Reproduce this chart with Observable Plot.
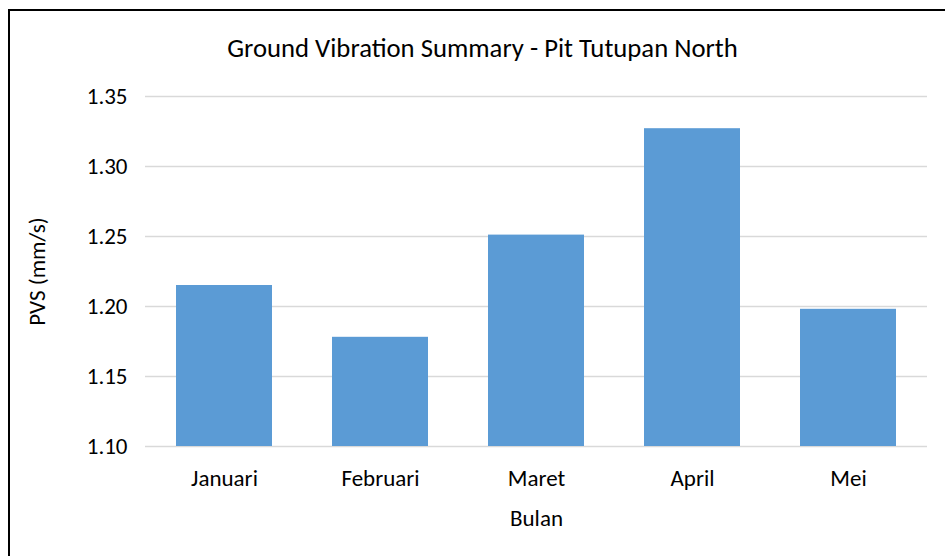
<!DOCTYPE html>
<html>
<head>
<meta charset="utf-8">
<script src="https://cdn.jsdelivr.net/npm/d3@7"></script>
<script src="https://cdn.jsdelivr.net/npm/@observablehq/plot@0.6"></script>
<style>
  html, body { margin: 0; padding: 0; background: #fff; }
  #wrap { position: relative; width: 945px; height: 556px; overflow: hidden; background: #fff;
          font-family: Calibri, Carlito, Lato, sans-serif; }
  #frame { position: absolute; left: 8px; top: 9px; width: 1000px; height: 1000px;
           border-top: 2px solid #000; border-left: 2px solid #000; box-sizing: border-box; }
  #title { position: absolute; left: 10px; top: 0; width: 945px; height: 80px; line-height: 96px;
           text-align: center; font-size: 26.7px; color: #000; }
  #chart { position: absolute; left: 0; top: 80px; }
  #chart svg { overflow: visible; }
</style>
</head>
<body>
<div id="wrap">
  <div id="frame"></div>
  <div id="title"></div>
  <div id="chart"></div>
</div>
<script>
const months = ["Januari", "Februari", "Maret", "April", "Mei"];
const pvs = [1.215, 1.178, 1.251, 1.327, 1.198];
const yTicks = [1.10, 1.15, 1.20, 1.25, 1.30, 1.35];
const title = "Ground Vibration Summary - Pit Tutupan North";
const xLabel = "Bulan";
const yLabel = "PVS (mm/s)";

const data = months.map((m, i) => ({month: m, value: pvs[i]}));
const font = "Calibri, Carlito, Lato, sans-serif";

const chart = Plot.plot({
  width: 945,
  height: 476,
  marginTop: 16,
  marginBottom: 110,
  marginLeft: 145,
  marginRight: 18,
  style: {fontFamily: font, fontSize: "23px", color: "#000", background: "transparent", overflow: "visible"},
  x: {domain: months, paddingInner: 0.383, paddingOuter: 0.1915, align: 0.5},
  y: {domain: [1.10, 1.35]},
  marks: [
    Plot.gridY(yTicks, {stroke: "#d9d9d9", strokeOpacity: 1, strokeWidth: 1.6}),
    Plot.barY(data, {x: "month", y1: 1.10, y2: "value", fill: "#5b9bd5"}),
    Plot.axisY({ticks: yTicks, tickSize: 0, tickPadding: 18, tickFormat: d3.format(".2f"),
                fontSize: 23, label: null}),
    Plot.axisX({tickSize: 0, tickPadding: 23, fontSize: 23, label: null}),
    Plot.text([xLabel], {frameAnchor: "bottom", dy: 79, fontSize: 23, fill: "#000"}),
    Plot.text([yLabel], {frameAnchor: "left", dx: -108, rotate: -90, textAnchor: "middle", fontSize: 23, fill: "#000"})
  ]
});
document.getElementById("title").textContent = title;
document.getElementById("chart").appendChild(chart);
</script>
</body>
</html>
